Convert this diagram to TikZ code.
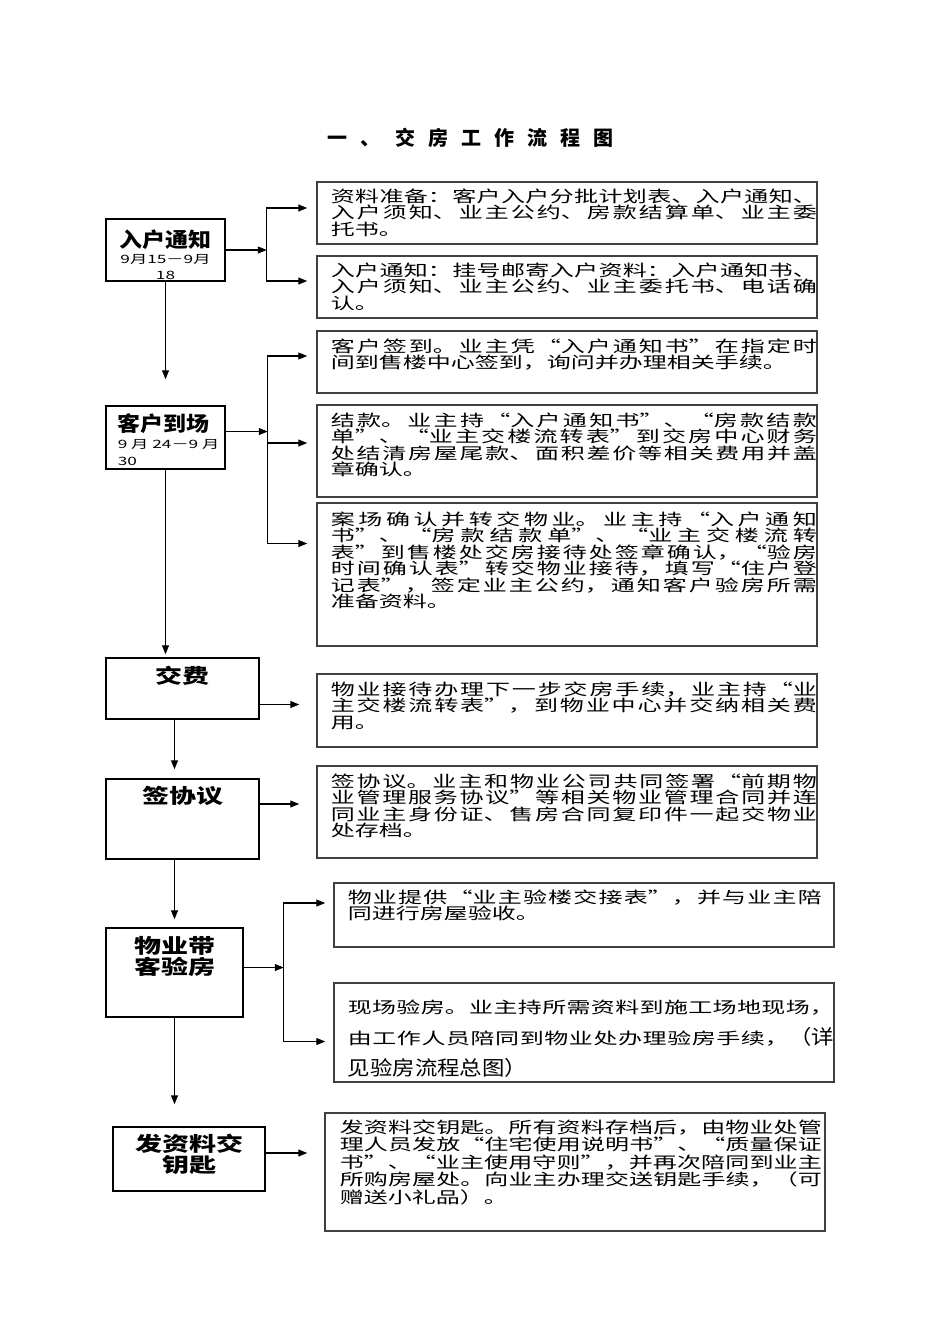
\documentclass[tikz,border=0pt]{standalone}
\usepackage{fontspec}
\usetikzlibrary{arrows.meta, positioning, fit}
\newfontfamily\cjk[FakeStretch=1.5]{Noto Sans CJK SC}
\newfontfamily\cjkplain{Noto Sans CJK SC}
\newfontfamily\headfont[FakeStretch=1.12]{Noto Sans CJK SC}
\newfontfamily\headwide[FakeStretch=1.35]{Noto Sans CJK SC}
\newcommand{\datefont}{\cjk\mdseries\fontsize{11.5}{13}\selectfont}
\XeTeXlinebreaklocale "zh"
\XeTeXlinebreakskip=0pt plus 2pt

\begin{document}
\begin{tikzpicture}[x=1pt, y=-1pt, >={Triangle[length=9pt, width=7pt]}, line width=1.1pt,
  stage/.style={draw, line width=1.5pt, inner sep=0pt},
  stagename/.style={inner sep=0pt, font=\headfont\bfseries\fontsize{20.5}{21}\selectfont},
  stagewide/.style={inner sep=0pt, align=center, font=\headwide\bfseries\fontsize{20}{18.5}\selectfont},
  info/.style={draw=black!75, line width=1.5pt, inner sep=0pt},
  infotext/.style={inner sep=0pt, align=justify, text width=#1, font=\cjk\fontsize{16}{16.5}\selectfont},
  infotext/.default=486pt]
  \useasboundingbox (0,0) rectangle (950,1344);
  % 标题
  \node[font=\cjkplain\bfseries\fontsize{20}{20}\selectfont] (title) at (470,138)
    {一\hspace{13pt}、\hspace{15pt}交\hspace{13pt}房\hspace{13pt}工\hspace{13pt}作\hspace{13pt}流\hspace{13pt}程\hspace{13pt}图};

  % 左侧流程框
  \node[stage, fit={(106,219)(225,281)}] (notice) {};
  \node[stagename, align=center, below=11pt of notice.north] (noticename)
    {入户通知\\[-5pt]{\datefont 9月15－9月}\\[-5pt]{\datefont 18}};
  \node[stage, fit={(106,406)(225,469)}] (arrive) {};
  \node[stagename, align=left, below right=8pt and 12pt of arrive.north west] (arrivename)
    {客户到场\\[-4pt]{\datefont 9 月 24－9 月}\\[-4pt]{\datefont 30}};
  \node[stage, fit={(106,658)(259,719)}] (fee) {};
  \node[stagewide, below=8pt of fee.north] (feename) {交费};
  \node[stage, fit={(106,779)(259,859)}] (sign) {};
  \node[stagewide, below=7pt of sign.north] (signname) {签协议};
  \node[stage, fit={(106,928)(243,1017)}] (inspect) {};
  \node[stagewide, below=9pt of inspect.north] (inspectname) {物业带\\客验房};
  \node[stage, fit={(113,1127)(265,1191)}] (keys) {};
  \node[stagewide, below=7pt of keys.north] (keysname) {发资料交\\[1.5pt]钥匙};

  % 右侧说明框
  \node[info, fit={(317,182)(817,244)}] (prep) {};
  \node[infotext, below right=7pt and 14pt of prep.north west] (preptext)
    {资料准备：客户入户分批计划表、入户通知、\linebreak 入户须知、业主公约、房款结算单、业主委\linebreak 托书。};
  \node[info, fit={(317,256)(817,318)}] (mail) {};
  \node[infotext, below right=7pt and 14pt of mail.north west] (mailtext)
    {入户通知：挂号邮寄入户资料：入户通知书、\linebreak 入户须知、业主公约、业主委托书、电话确\linebreak 认。};
  \node[info, fit={(317,331)(817,393)}] (signin) {};
  \node[infotext, below right=8pt and 14pt of signin.north west] (signintext)
    {客户签到。业主凭“入户通知书”在指定时\linebreak 间到售楼中心签到，询问并办理相关手续。};
  \node[info, fit={(317,405)(817,497)}] (settle) {};
  \node[infotext, below right=8pt and 14pt of settle.north west] (settletext)
    {结款。业主持“入户通知书”、“房款结款\linebreak 单”、“业主交楼流转表”到交房中心财务\linebreak 处结清房屋尾款、面积差价等相关费用并盖\linebreak 章确认。};
  \node[info, fit={(317,503)(817,646)}] (transfer) {};
  \node[infotext, below right=9pt and 14pt of transfer.north west] (transfertext)
    {案场确认并转交物业。业主持“入户通知\linebreak 书”、“房款结款单”、“业主交楼流转\linebreak 表”到售楼处交房接待处签章确认，“验房\linebreak 时间确认表”转交物业接待，填写“住户登\linebreak 记表”，签定业主公约，通知客户验房所需\linebreak 准备资料。};
  \node[info, fit={(317,674)(817,747)}] (handover) {};
  \node[infotext, below right=8pt and 14pt of handover.north west] (handovertext)
    {物业接待办理下一步交房手续，业主持“业\linebreak 主交楼流转表”，到物业中心并交纳相关费\linebreak 用。};
  \node[info, fit={(317,766)(817,858)}] (agree) {};
  \node[infotext, below right=8pt and 14pt of agree.north west] (agreetext)
    {签协议。业主和物业公司共同签署“前期物\linebreak 业管理服务协议”等相关物业管理合同并连\linebreak 同业主身份证、售房合同复印件一起交物业\linebreak 处存档。};
  \node[info, fit={(334,883)(834,947)}] (provide) {};
  \node[infotext=474pt, below right=7pt and 14pt of provide.north west] (providetext)
    {物业提供“业主验楼交接表”，并与业主陪\linebreak 同进行房屋验收。};
  \node[info, fit={(334,983)(834,1082)}] (onsite) {};
  \node[infotext, font=\cjk\fontsize{16}{31}\selectfont, below right=17pt and 14pt of onsite.north west] (onsitetext)
    {现场验房。业主持所需资料到施工场地现场，\linebreak 由工作人员陪同到物业处办理验房手续，{\headfont\fontsize{20}{31}\selectfont （详}\linebreak {\headfont\fontsize{20}{31}\selectfont 见验房流程总图）}};
  \node[info, fit={(325,1113)(825,1231)}] (handkeys) {};
  \node[infotext=482pt, font=\cjk\fontsize{16}{17.5}\selectfont, below right=7pt and 15pt of handkeys.north west] (handkeystext)
    {发资料交钥匙。所有资料存档后，由物业处管\linebreak 理人员发放“住宅使用说明书”、“质量保证\linebreak 书”、“业主使用守则”，并再次陪同到业主\linebreak 所购房屋处。向业主办理交送钥匙手续，（可\linebreak 赠送小礼品）。};

  % 入户通知的分支
  \coordinate[right=41pt of notice.east] (j1);
  \draw[->] (notice.east) -- (j1);
  \draw[->, shorten >=9pt] (j1) |- ([yshift=5pt]prep.west);
  \draw[->, shorten >=9pt] (j1) |- ([yshift=6pt]mail.west);
  % 客户到场的分支
  \coordinate (a0) at ([yshift=6pt]arrive.east);
  \coordinate[right=42pt of a0] (j2);
  \draw[->] (a0) -- (j2);
  \draw[->, shorten >=9pt] (j2) |- ([yshift=6pt]signin.west);
  \draw[->, shorten >=9pt] (j2) |- ([yshift=8pt]settle.west);
  \draw[->, shorten >=9pt] (j2) |- ([yshift=31pt]transfer.west);
  % 交费、签协议
  \coordinate (f0) at ([yshift=-16pt]fee.east);
  \draw[->, shorten >=17pt] (f0) -- (f0 -| handover.west);
  \coordinate (s0) at ([yshift=15pt]sign.east);
  \draw[->, shorten >=17pt] (s0) -- (s0 -| agree.west);
  % 验房的分支
  \coordinate (i0) at ([yshift=5pt]inspect.east);
  \coordinate[right=40pt of i0] (j3);
  \draw[->] (i0) -- (j3);
  \draw[->, shorten >=8pt] (j3) |- ([yshift=12pt]provide.west);
  \draw[->, shorten >=8pt] (j3) |- ([yshift=-9pt]onsite.west);
  % 交钥匙
  \coordinate (k0) at ([yshift=6pt]keys.east);
  \draw[->, shorten >=17pt] (k0) -- (k0 -| handkeys.west);

  % 主流程向下
  \draw[->, shorten >=26pt] (notice.south) -- (arrive.north);
  \draw[->, shorten >=3pt] (arrive.south) -- (arrive.south |- fee.north);
  \coordinate (f1) at ([xshift=-8pt]fee.south);
  \draw[->, shorten >=9pt] (f1) -- (f1 |- sign.north);
  \draw[->, shorten >=8pt] (sign.south -| inspect.north) -- (inspect.north);
  \draw[->, shorten >=22pt] (inspect.south) -- (inspect.south |- keys.north);
\end{tikzpicture}
\end{document}
